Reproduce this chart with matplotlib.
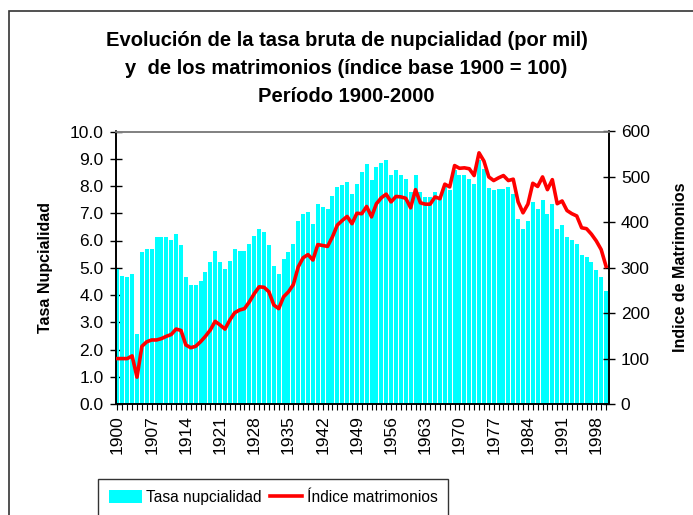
import numpy as np
import matplotlib
matplotlib.use("Agg")
import matplotlib.pyplot as plt
from matplotlib.patches import Rectangle

# ==========================================
# datos
# ==========================================
years = np.arange(1900, 2001)

tasa = [
    4.95, 4.70, 4.66, 4.76, 2.58, 5.57, 5.68, 5.68, 6.12, 6.12,
    6.12, 6.01, 6.23, 5.82, 4.65, 4.36, 4.36, 4.51, 4.84, 5.20,
    5.60, 5.20, 4.94, 5.24, 5.68, 5.60, 5.60, 5.86, 6.15, 6.41,
    6.30, 5.82, 5.05, 4.76, 5.31, 5.57, 5.86, 6.70, 6.96, 7.03,
    6.59, 7.33, 7.22, 7.14, 7.62, 7.95, 8.02, 8.13, 7.69, 8.06,
    8.50, 8.79, 8.21, 8.68, 8.86, 8.94, 8.42, 8.57, 8.42, 8.24,
    7.77, 8.39, 7.77, 7.58, 7.58, 7.77, 7.55, 8.02, 7.84, 8.60,
    8.39, 8.39, 8.24, 8.06, 8.94, 8.61, 7.94, 7.84, 7.88, 7.88,
    7.95, 7.69, 6.78, 6.41, 6.70, 7.40, 7.14, 7.47, 6.96, 7.33,
    6.41, 6.56, 6.12, 6.01, 5.86, 5.46, 5.38, 5.20, 4.91, 4.65,
    4.14,
]

indice = [
    100, 100, 100, 106, 59, 127, 137, 141, 141, 144,
    149, 153, 165, 162, 130, 124, 127, 137, 149, 163,
    182, 174, 165, 185, 201, 207, 210, 225, 243, 258,
    257, 247, 218, 210, 236, 247, 263, 302, 322, 329,
    317, 351, 349, 347, 368, 394, 404, 413, 397, 420,
    419, 435, 412, 441, 454, 462, 445, 457, 456, 453,
    432, 472, 443, 440, 440, 456, 452, 484, 478, 525,
    519, 520, 518, 503, 553, 535, 500, 492, 498, 503,
    492, 495, 445, 421, 440, 486, 479, 500, 472, 494,
    441, 447, 426, 419, 414, 388, 386, 374, 359, 340,
    303,
]

left_ticks = np.arange(0, 10.5, 1.0)
right_ticks = np.arange(0, 601, 100)
label_years = np.arange(1900, 2001, 7)

plt.rcParams['font.family'] = ['Liberation Sans', 'DejaVu Sans']

# ==========================================
# figura
# ==========================================
W, H = 693, 515
fig = plt.figure(figsize=(W / 100, H / 100), dpi=100)
fig.patch.set_facecolor('white')

# marco del area del grafico (se sale de la imagen por abajo y la derecha)
fig.add_artist(Rectangle((9 / W, -0.2), 2.0, (1 - 11 / H) + 0.2,
                         transform=fig.transFigure, fill=False,
                         edgecolor='#333333', lw=1.2))

x0, x1 = 115.5 / W, 609 / W
y0, y1 = 1 - 404 / H, 1 - 131.5 / H
ax = fig.add_axes([x0, y0, x1 - x0, y1 - y0])
ax2 = ax.twinx()

bars = ax.bar(years, tasa, width=0.82, color='#00FFFF', edgecolor='none',
              label='Tasa nupcialidad', zorder=2)
line, = ax2.plot(years, indice, color='#FF0000', lw=2.6,
                 label='Índice matrimonios', zorder=3)

ax.set_xlim(1899.6, 2000.6)
ax.set_ylim(0, 10)
ax2.set_ylim(0, 600)

ax.set_yticks(left_ticks)
ax.set_yticklabels([f"{v:.1f}" for v in left_ticks])
ax2.set_yticks(right_ticks)
ax2.set_yticklabels([str(v) for v in right_ticks])

ax.set_xticks(years)
ax.set_xticklabels([str(y) if y in label_years else '' for y in years],
                   rotation=90)

TICK_FS = 12.5
ax.tick_params(axis='y', direction='inout', length=9, width=1,
               labelsize=TICK_FS, pad=4)
ax2.tick_params(axis='y', direction='inout', length=9, width=1,
                labelsize=TICK_FS, pad=4)
ax.tick_params(axis='x', direction='inout', length=8, width=0.8,
               labelsize=TICK_FS, pad=4)

for a in (ax, ax2):
    a.spines['top'].set_color('#808080')
    a.spines['top'].set_linewidth(1.2)
    a.spines['left'].set_linewidth(1.2)
    a.spines['right'].set_linewidth(1.2)
    a.spines['bottom'].set_linewidth(1.2)
    a.set_facecolor('none')

ax.set_ylabel('Tasa Nupcialidad', fontsize=11.5, fontweight='bold', labelpad=12)
ax2.set_ylabel('Indice de Matrimonios', fontsize=11.5, fontweight='bold',
               labelpad=17, rotation=90)

TITLE_FS = 14.5
fig.text(0.5, 1 - 41 / H, 'Evolución de la tasa bruta de nupcialidad (por mil)',
         ha='center', va='center', fontsize=TITLE_FS, fontweight='bold')
fig.text(0.5, 1 - 69 / H, 'y  de los matrimonios (índice base 1900 = 100)',
         ha='center', va='center', fontsize=TITLE_FS, fontweight='bold')
fig.text(0.5, 1 - 96 / H, 'Período 1900-2000',
         ha='center', va='center', fontsize=TITLE_FS, fontweight='bold')

leg = fig.legend([bars, line], ['Tasa nupcialidad', 'Índice matrimonios'],
                 loc='upper left', bbox_to_anchor=(98 / W, 1 - 479 / H),
                 borderaxespad=0, ncol=2, fontsize=11.2, frameon=True,
                 fancybox=False, edgecolor='black', handlelength=2.1,
                 handleheight=0.9, columnspacing=0.5, handletextpad=0.3,
                 borderpad=0.7)
leg.get_frame().set_linewidth(1.0)

fig.savefig('out.png', dpi=100)
